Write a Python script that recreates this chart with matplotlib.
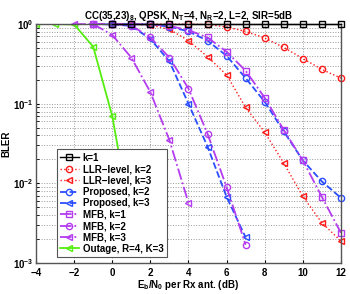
import matplotlib
matplotlib.use('Agg')
import matplotlib.pyplot as plt
import numpy as np

plt.rcParams['font.family'] = ['Liberation Sans', 'DejaVu Sans']
plt.rcParams['font.weight'] = 'bold'
plt.rcParams['mathtext.default'] = 'regular'

# Eb/N0 (dB) grids
x_k1 = [0, 1, 2, 3, 4, 5, 6, 7, 8, 9, 10, 11, 12]
bler_k1 = [1, 1, 1, 1, 1, 1, 1, 1, 1, 1, 1, 1, 1]

x_llr2 = [0, 1, 2, 3, 4, 5, 6, 7, 8, 9, 10, 11, 12]
bler_llr2 = [1, 1, 1, 1, 1, 0.99, 0.92, 0.81, 0.67, 0.51, 0.37, 0.27, 0.21]

x_llr3 = [0, 1, 2, 3, 4, 5, 6, 7, 8, 9, 10, 11, 12]
bler_llr3 = [1, 1, 0.97, 0.86, 0.62, 0.39, 0.23, 0.09, 0.044, 0.018, 0.0069, 0.0032, 0.0019]

x_prop2 = [0, 1, 2, 3, 4, 5, 6, 7, 8, 9, 10, 11, 12]
bler_prop2 = [1, 1, 0.99, 0.93, 0.81, 0.62, 0.40, 0.21, 0.106, 0.045, 0.0195, 0.0106, 0.0066]

x_prop3 = [-1, 0, 1, 2, 3, 4, 5, 6, 7]
bler_prop3 = [1, 0.99, 0.95, 0.65, 0.34, 0.10, 0.029, 0.0068, 0.0021]

x_mfb1 = [-1, 0, 1, 2, 3, 4, 5, 6, 7, 8, 9, 10, 11, 12]
bler_mfb1 = [1, 1, 1, 0.99, 0.95, 0.84, 0.68, 0.45, 0.26, 0.119, 0.047, 0.0195, 0.0068, 0.0024]

x_mfb2 = [-1, 0, 1, 2, 3, 4, 5, 6, 7]
bler_mfb2 = [1, 1, 0.96, 0.68, 0.38, 0.155, 0.042, 0.009, 0.0017]

x_mfb3 = [-2, -1, 0, 1, 2, 3, 4]
bler_mfb3 = [1, 1, 0.73, 0.38, 0.14, 0.035, 0.0057]

x_out = [-4, -3, -2, -1, 0, 1]
bler_out = [1, 1, 0.99, 0.52, 0.07, 0.0032]

red = '#ff1a1a'
blue = '#2a4dff'
mag = '#b43cf0'
green = '#55ee11'

fig = plt.figure(figsize=(3.5, 2.94), dpi=100)
ax = fig.add_axes([0.103, 0.105, 0.871, 0.813])

ms = 4.5
ax.semilogy(x_k1, bler_k1, '-s', color='black', mfc='none', ms=ms, lw=1.0, label='k=1', clip_on=False, zorder=5)
ax.semilogy(x_llr2, bler_llr2, ':o', color=red, mfc='none', ms=ms, lw=1.0, label='LLR\u2212level, k=2', clip_on=False)
ax.semilogy(x_llr3, bler_llr3, ':<', color=red, mfc='none', ms=ms, lw=1.0, label='LLR\u2212level, k=3', clip_on=False)
ax.semilogy(x_prop2, bler_prop2, '--o', color=blue, mfc='none', ms=ms, lw=1.3, label='Proposed, k=2', clip_on=False)
ax.semilogy(x_prop3, bler_prop3, '--<', color=blue, mfc='none', ms=ms, lw=1.3, label='Proposed, k=3', clip_on=False)
ax.semilogy(x_mfb1, bler_mfb1, '-.s', color=mag, mfc='none', ms=ms, lw=1.3, label='MFB, k=1', clip_on=False)
ax.semilogy(x_mfb2, bler_mfb2, '-.o', color=mag, mfc='none', ms=ms, lw=1.3, label='MFB, k=2', clip_on=False)
ax.semilogy(x_mfb3, bler_mfb3, '-.<', color=mag, mfc='none', ms=ms, lw=1.3, label='MFB, k=3', clip_on=False)
ax.semilogy(x_out, bler_out, '-<', color=green, mfc='none', ms=ms + 0.5, lw=1.3, label='Outage, R=4, K=3', clip_on=True)

ax.set_xlim(-4, 12)
ax.set_ylim(1e-3, 1)
ax.set_xticks(np.arange(-4, 13, 2))
ax.grid(True, which='both', ls=':', color='#999999', lw=0.7)
ax.tick_params(labelsize=7, length=2, which='both', direction='in', pad=2)
ax.tick_params(axis='x', pad=3.5)
for s in ax.spines.values():
    s.set_color('#555555')
    s.set_linewidth(1.0)

ax.set_title('CC(35,23)$_8$, QPSK, N$_T$=4, N$_R$=2, L=2, SIR=5dB', fontsize=7, fontweight='bold', pad=4)
ax.set_xlabel('E$_b$/N$_0$ per Rx ant. (dB)', fontsize=7, fontweight='bold', labelpad=0)
ax.set_ylabel('BLER', fontsize=7, fontweight='bold', labelpad=1)

leg = ax.legend(loc='lower left', bbox_to_anchor=(0.068, 0.025), borderaxespad=0, fontsize=7,
                handlelength=1.9, labelspacing=0.14, borderpad=0.35, handletextpad=0.4,
                fancybox=False, edgecolor='#555555', framealpha=1)
leg.get_frame().set_linewidth(0.8)

fig.savefig('out.png', dpi=100)
